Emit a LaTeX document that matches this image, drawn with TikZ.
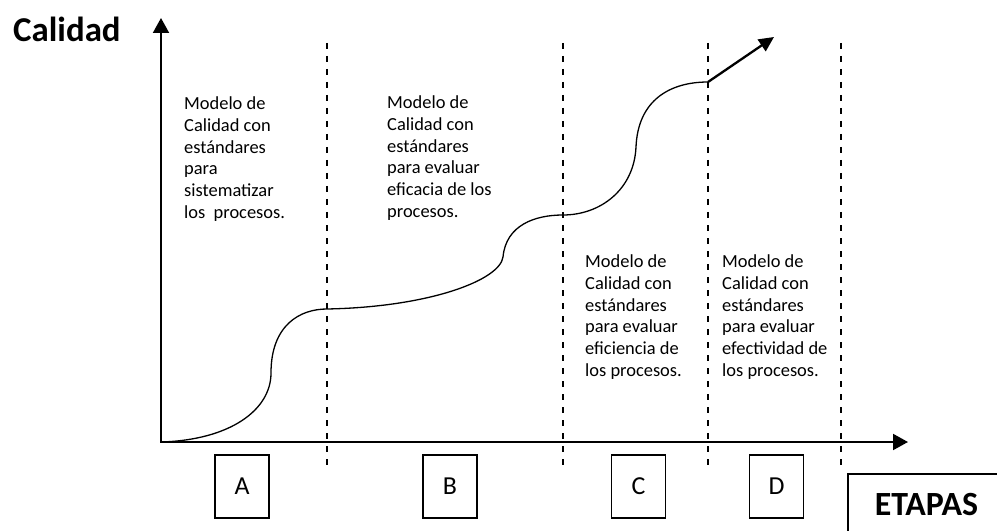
\documentclass[tikz,border=0pt]{standalone}
\usepackage{fontspec}
\setmainfont{Carlito}
\usetikzlibrary{arrows.meta}

\begin{document}
\begin{tikzpicture}[x=1bp,y=-1bp,
  axis/.style={line width=2bp,{Triangle[length=15bp,width=16bp]}-{Triangle[length=15bp,width=16bp]}},
  divider/.style={line width=1.5bp,dash pattern=on 6bp off 7bp},
  etapa/.style={draw,line width=1.3bp,minimum width=54bp,minimum height=63bp,inner sep=0pt,font=\fontsize{26}{30}\selectfont},
  modelo/.style={anchor=north west,align=left,inner sep=0pt,font=\fontsize{18.5}{21.7}\selectfont}]

\useasboundingbox (0,0) rectangle (997,531) ;

\coordinate (origin) at (161,442) ;
\coordinate (ytip) at (161,18) ;
\coordinate (xtip) at (908,442) ;
\coordinate (knee) at (708,82) ;
\coordinate (tip) at (774,37) ;

% etapas
\foreach \x in {327,563,708,841}
  \draw[divider] (\x,43) -- (\x,469) ;

\draw[axis] (ytip) -- (origin) -- (xtip) ;

% curva de calidad
\draw[line width=1.3bp] (origin)
  .. controls (230,440) and (271,410) .. (271,373)
  .. controls (271,325) and (300,309) .. (327,309)
  .. controls (430,307) and (500,280) .. (503,257)
  .. controls (506,225) and (535,215) .. (563,215)
  .. controls (600,215) and (634,190) .. (636,147)
  .. controls (638,100) and (670,82) .. (knee) ;
\draw[line width=2.3bp,-{Triangle[length=15bp,width=14bp]}] (knee) -- (tip) ;

\node[anchor=base west,inner sep=0pt,font=\fontsize{35}{42}\selectfont\bfseries] (calidad) at (13,42) {Calidad} ;

\node[modelo] (modeloA) at (184,97) {Modelo de\\Calidad con\\estándares\\para\\sistematizar\\los\ \ procesos.} ;
\node[modelo] (modeloB) at (387,96) {Modelo de\\Calidad con\\estándares\\para evaluar\\eficacia de los\\procesos.} ;
\node[modelo] (modeloC) at (585,255) {Modelo de\\Calidad con\\estándares\\para evaluar\\eficiencia de\\los procesos.} ;
\node[modelo] (modeloD) at (722,255) {Modelo de\\Calidad con\\estándares\\para evaluar\\efectividad de\\los procesos.} ;

\node[etapa] (A) at (242,486.5) {A} ;
\node[etapa] (B) at (450,486.5) {B} ;
\node[etapa] (C) at (638.5,486.5) {C} ;
\node[etapa] (D) at (776.5,486.5) {D} ;

\node[draw,line width=1.3bp,minimum width=157bp,minimum height=62bp,inner sep=0pt,font=\fontsize{34}{40}\selectfont\bfseries] (etapas) at (926.5,505) {ETAPAS} ;

\end{tikzpicture}
\end{document}
